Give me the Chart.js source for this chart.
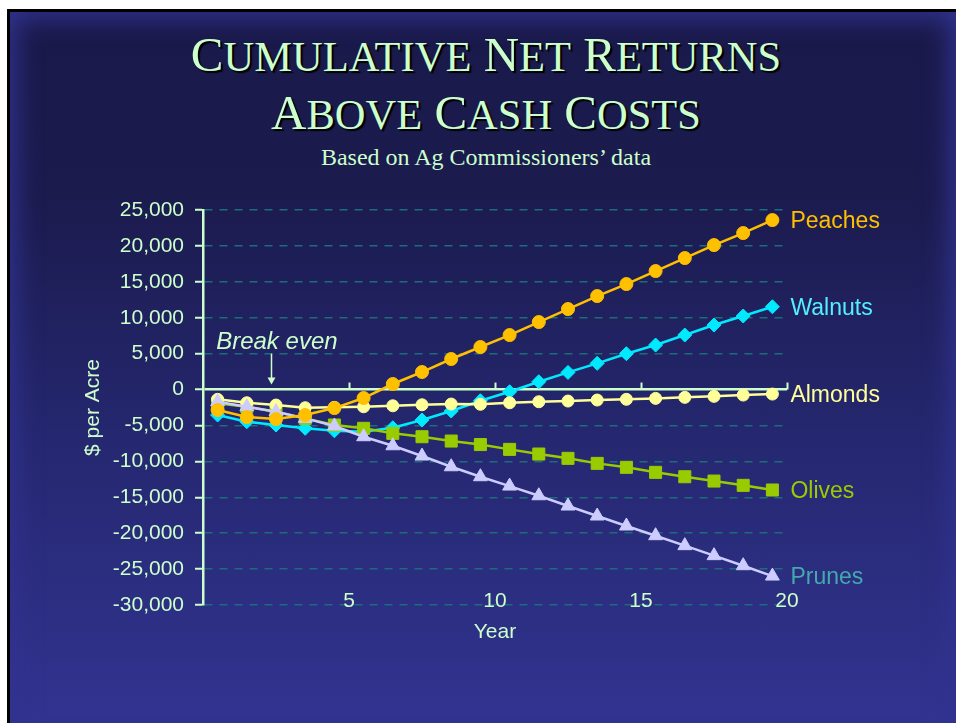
<!DOCTYPE html>
<html>
<head>
<meta charset="utf-8">
<script src="https://cdn.jsdelivr.net/npm/chart.js@4.4.0/dist/chart.umd.min.js"></script>
<style>
  html, body { margin: 0; padding: 0; background: #fff; overflow: hidden; }
  body { width: 956px; height: 723px; position: relative; }
  #slide {
    position: absolute; left: 7px; top: 9px; width: 990px; height: 740px; box-sizing: border-box;
    border-left: 3px solid #000; border-top: 3px solid #000;
    background: linear-gradient(to bottom, #19194a 0%, #1b1b4e 25%, #262872 60%, #31338f 95%);
  }
  #glow {
    position: absolute; left: 10px; top: 12px; width: 946px; height: 740px;
    box-shadow: inset 0 0 26px 6px #31338f;
  }
  .title {
    position: absolute; left: 8px; width: 956px; text-align: center;
    font-family: "Liberation Serif", serif; color: #ccffcc;
    text-shadow: 2px 2px 1px #000; white-space: nowrap;
  }
  #t1 { top: 27px; font-size: 49px; line-height: 56px; }
  #t1 .s { font-size: 42.5px; }
  #sub { top: 143px; font-size: 24px; line-height: 28px; text-shadow: none; }
  canvas { position: absolute; left: 0; top: 0; }
</style>
</head>
<body>
<div id="slide"></div>
<div id="glow"></div>
<div class="title" id="t1">C<span class="s">UMULATIVE</span> N<span class="s">ET</span> R<span class="s">ETURNS</span><br>A<span class="s">BOVE</span> C<span class="s">ASH</span> C<span class="s">OSTS</span></div>
<div class="title" id="sub">Based on Ag Commissioners’ data</div>
<canvas id="chart" width="956" height="723"></canvas>
<script>
// years are plotted mid-interval (0.5 ... 19.5)
const years = [0.5, 1.5, 2.5, 3.5, 4.5, 5.5, 6.5, 7.5, 8.5, 9.5,
               10.5, 11.5, 12.5, 13.5, 14.5, 15.5, 16.5, 17.5, 18.5, 19.5]
const peaches = [-2850, -3830, -4110, -3550, -2580, -1180, 770, 2440, 4250, 5920,
                 7590, 9400, 11210, 13020, 14690, 16500, 18310, 20120, 21790, 23600]
const walnuts = [-3550, -4480, -4940, -5400, -5740, -5880, -5320, -4250, -2990, -1560,
                 -310, 1090, 2390, 3650, 4990, 6200, 7590, 8980, 10240, 11530]
const almonds = [-1360, -1840, -2160, -2530, -2480, -2400, -2260, -2120, -2020, -2050,
                 -1840, -1700, -1600, -1460, -1360, -1230, -1090, -950, -770, -630]
const olives = [-1920, -2400, -3090, -4010, -4940, -5400, -6100, -6570, -7170, -7660,
                -8330, -8980, -9580, -10280, -10830, -11530, -12140, -12740, -13340, -13990]
const prunes = [-1700, -2400, -3090, -4010, -5080, -6570, -7830, -9260, -10750, -12140,
                -13440, -14790, -16220, -17610, -19000, -20350, -21740, -23130, -24530, -25970]
const yTicks = [-30000, -25000, -20000, -15000, -10000, -5000, 0, 5000, 10000, 15000, 20000, 25000]
const xTicks = [5, 10, 15, 20]

const GREEN = '#ccffcc'
const GRID = '#1c6d7c'
const FONT = "'Liberation Sans', Arial, sans-serif"

const pts = arr => arr.map((v, i) => ({x: years[i], y: v}))

const mk = (label, data, color, style, r, labelColor, order) => ({
  label, data: pts(data), borderColor: color, backgroundColor: color,
  pointBackgroundColor: color, pointBorderColor: color, pointBorderWidth: 1,
  pointStyle: style, pointRadius: r, borderWidth: 2.5, order, labelColor
})

// x tick labels, zero-line ticks, series names and the break even note
const notes = {
  id: 'notes',
  afterDatasetsDraw(chart) {
    const c = chart.ctx, xs = chart.scales.x, ys = chart.scales.y
    c.save()
    const y0 = ys.getPixelForValue(0)
    c.strokeStyle = GREEN
    c.fillStyle = GREEN
    c.lineWidth = 2
    c.font = '21px ' + FONT
    c.textAlign = 'center'; c.textBaseline = 'middle'
    xTicks.forEach(t => {
      const px = Math.round(xs.getPixelForValue(t)) + 0.5
      c.beginPath(); c.moveTo(px, y0); c.lineTo(px, y0 - 7); c.stroke()
      c.fillText(String(t), xs.getPixelForValue(t), chart.chartArea.bottom - 4)
    })
    // break even arrow
    const ax = Math.round(xs.getPixelForValue(2.33)) + 0.5
    const aTop = ys.getPixelForValue(5000), aTip = ys.getPixelForValue(700)
    c.lineWidth = 1.5
    c.beginPath(); c.moveTo(ax, aTop); c.lineTo(ax, aTip - 5); c.stroke()
    c.beginPath(); c.moveTo(ax - 4, aTip - 7); c.lineTo(ax + 4, aTip - 7); c.lineTo(ax, aTip); c.closePath(); c.fill()
    c.font = 'italic 24px ' + FONT
    c.textBaseline = 'alphabetic'
    c.fillText('Break even', xs.getPixelForValue(2.53), ys.getPixelForValue(5640))
    // series labels
    c.font = '23px ' + FONT
    c.textAlign = 'left'; c.textBaseline = 'middle'
    chart.data.datasets.forEach((ds, i) => {
      const meta = chart.getDatasetMeta(i)
      const last = meta.data[meta.data.length - 1]
      c.fillStyle = ds.labelColor
      c.fillText(ds.label, last.x + 18, last.y + 2)
    })
    c.restore()
  }
}

new Chart(document.getElementById('chart'), {
  type: 'line',
  data: {
    datasets: [
      mk('Peaches', peaches, '#ffc000', 'circle', 6.5, '#ffc000', 1),
      mk('Prunes', prunes, '#ccccff', 'triangle', 8, '#44a9ad', 2),
      mk('Almonds', almonds, '#ffff99', 'circle', 6, '#ffff99', 3),
      mk('Olives', olives, '#99cc00', 'rect', 8.5, '#99cc00', 4),
      mk('Walnuts', walnuts, '#00eaff', 'rectRot', 7, '#55eeff', 5)
    ]
  },
  options: {
    responsive: false,
    animation: false,
    devicePixelRatio: 1,
    layout: { padding: { left: 75, right: 169, top: 210, bottom: 78 } },
    plugins: { legend: { display: false }, tooltip: { enabled: false } },
    scales: {
      x: {
        type: 'linear', min: 0, max: 20,
        afterBuildTicks: s => { s.ticks = xTicks.map(v => ({value: v})) },
        afterFit: s => { s.height = 40 },
        grid: { display: false },
        border: { display: false },
        ticks: { display: false },
        title: { display: true, text: 'Year', color: GREEN, font: { family: FONT, size: 21 }, padding: 0 }
      },
      y: {
        min: -30000, max: 25000,
        afterBuildTicks: s => { s.ticks = yTicks.map(v => ({value: v})) },
        afterFit: s => { s.width = 128 },
        grid: {
          color: ctx => ctx.tick && ctx.tick.value === 0 ? GREEN : GRID,
          lineWidth: ctx => ctx.tick && ctx.tick.value === 0 ? 2.5 : 1.5,
          tickColor: GREEN, tickLength: 8, tickWidth: 2, tickBorderDash: []
        },
        border: {
          color: GREEN, width: 2.5,
          dash: ctx => ctx.tick && ctx.tick.value === 0 ? [] : [8, 7]
        },
        ticks: {
          color: GREEN, font: { family: FONT, size: 21 }, padding: 11,
          callback: v => v.toLocaleString('en-US')
        },
        title: { display: true, text: '$ per Acre', color: GREEN, font: { family: FONT, size: 21 }, padding: { top: 6, bottom: 0 } }
      }
    }
  },
  plugins: [notes]
})
</script>
</body>
</html>
